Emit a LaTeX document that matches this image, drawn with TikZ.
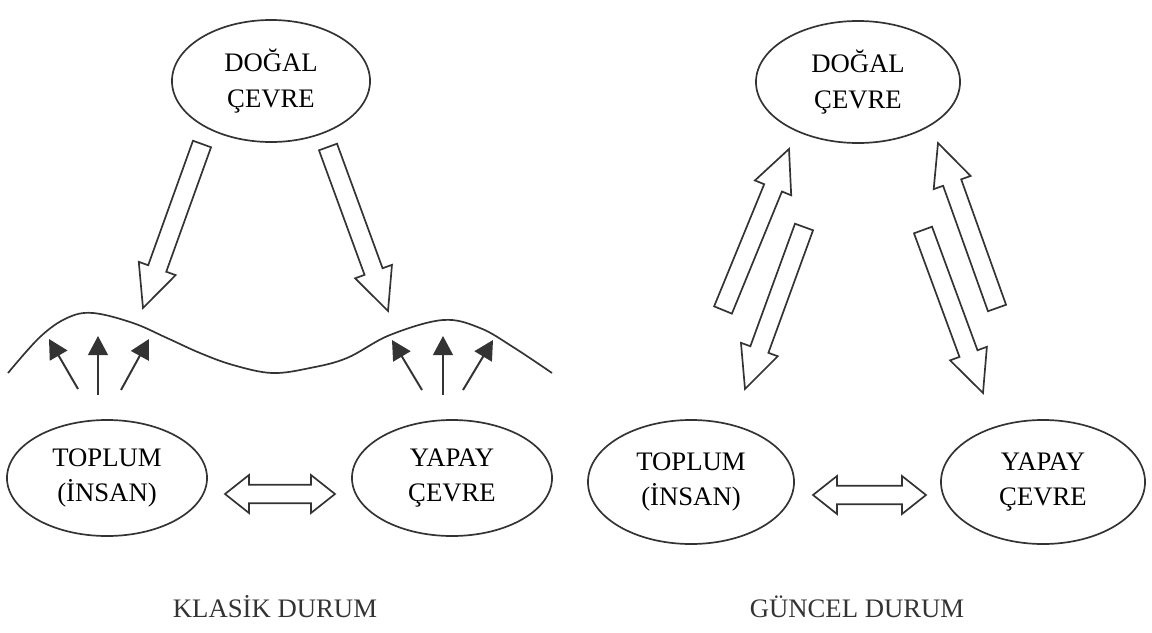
\documentclass[tikz,border=0pt]{standalone}
\usepackage{fontspec}
\setmainfont{Liberation Serif}
\usetikzlibrary{shapes.geometric,arrows.meta,calc}
\definecolor{ink}{HTML}{333333}

% hollow block arrow: #1 tail, #2 tip
\newcommand{\fatarrow}[2]{%
  \coordinate (fh) at ($(#2)!1.05cm!(#1)$);
  \draw[fat] ($(#1)!0.24cm!90:(#2)$) -- ($(fh)!0.24cm!90:(#2)$) -- ($(fh)!0.49cm!90:(#2)$) -- (#2)
    -- ($(fh)!0.49cm!-90:(#2)$) -- ($(fh)!0.24cm!-90:(#2)$) -- ($(#1)!0.24cm!-90:(#2)$) -- cycle;
}
% hollow block arrow with two heads
\newcommand{\fatboth}[2]{%
  \coordinate (fa) at ($(#1)!0.6cm!(#2)$);
  \coordinate (fb) at ($(#2)!0.6cm!(#1)$);
  \draw[fat] (#1) -- ($(fa)!0.475cm!90:(#2)$) -- ($(fa)!0.23cm!90:(#2)$) -- ($(fb)!0.23cm!-90:(#1)$)
    -- ($(fb)!0.475cm!-90:(#1)$) -- (#2) -- ($(fb)!0.475cm!90:(#1)$) -- ($(fb)!0.23cm!90:(#1)$)
    -- ($(fa)!0.23cm!-90:(#2)$) -- ($(fa)!0.475cm!-90:(#2)$) -- cycle;
}

\begin{document}
\begin{tikzpicture}[
    x=0.025cm, y=-0.025cm,
    blob/.style={ellipse, draw=ink, line width=1.2pt, inner sep=0pt, align=center,
                 font=\fontsize{19}{25.5}\selectfont},
    fat/.style={draw=ink, line width=1.2pt, fill=white, line join=miter},
    lift/.style={draw=ink, line width=1.4pt, -{Triangle[length=0.48cm, width=0.5cm, fill=ink]}},
    wave/.style={draw=ink, line width=1.2pt},
    caption/.style={font=\fontsize{19}{25.5}\selectfont, text=ink},
]
\useasboundingbox (0,0) rectangle (1152,632);

% ---- klasik durum ----
\node[blob, minimum width=4.95cm, minimum height=3.05cm] (dogalK) at (271,81) {DOĞAL\\ÇEVRE};
\node[blob, minimum width=5cm, minimum height=2.9cm] (toplumK) at (107,478) {TOPLUM\\(İNSAN)};
\node[blob, minimum width=5cm, minimum height=2.9cm] (yapayK) at (452,478) {YAPAY\\ÇEVRE};

\coordinate (k1s) at (202,144); \coordinate (k1e) at (143,308);
\coordinate (k2s) at (328,147); \coordinate (k2e) at (388,311);
\coordinate (k3a) at (225,494); \coordinate (k3b) at (335,494);
\fatarrow{k1s}{k1e}
\fatarrow{k2s}{k2e}
\fatboth{k3a}{k3b}

% ---- yüzey ----
\draw[wave] plot[smooth, tension=0.6] coordinates {(8,373) (40,337) (67,318) (93,313) (133,323) (167,338)
  (200,353) (233,365) (272,373) (310,368) (347,358) (390,335) (443,320) (480,328) (513,347) (552,373)};

\foreach \i/\bx/\by/\tx/\ty in {1/78/389/49/339, 2/98/395/98/336, 3/121/390/149/339,
                               4/422/390/392/340, 5/443/395/443/336, 6/463/390/493/340} {
  \coordinate (u\i) at (\bx,\by);
  \coordinate (v\i) at (\tx,\ty);
  \draw[lift] (u\i) -- (v\i);
}

\node[caption] (klasik) at (275,607) {KLASİK DURUM};

% ---- güncel durum ----
\node[blob, minimum width=5.1cm, minimum height=3.05cm] (dogalG) at (858,82) {DOĞAL\\ÇEVRE};
\node[blob, minimum width=5.15cm, minimum height=3.1cm] (toplumG) at (691,482) {TOPLUM\\(İNSAN)};
\node[blob, minimum width=5.1cm, minimum height=3.1cm] (yapayG) at (1043,482) {YAPAY\\ÇEVRE};

\coordinate (g1s) at (723,310); \coordinate (g1e) at (789,149);
\coordinate (g2s) at (804,227); \coordinate (g2e) at (745,389);
\coordinate (g3s) at (997,308); \coordinate (g3e) at (938,143);
\coordinate (g4s) at (923,230); \coordinate (g4e) at (983,393);
\coordinate (g5a) at (813,495); \coordinate (g5b) at (926,495);
\fatarrow{g1s}{g1e}
\fatarrow{g2s}{g2e}
\fatarrow{g3s}{g3e}
\fatarrow{g4s}{g4e}
\fatboth{g5a}{g5b}

\node[caption] (guncel) at (857,607) {GÜNCEL DURUM};

\end{tikzpicture}
\end{document}
